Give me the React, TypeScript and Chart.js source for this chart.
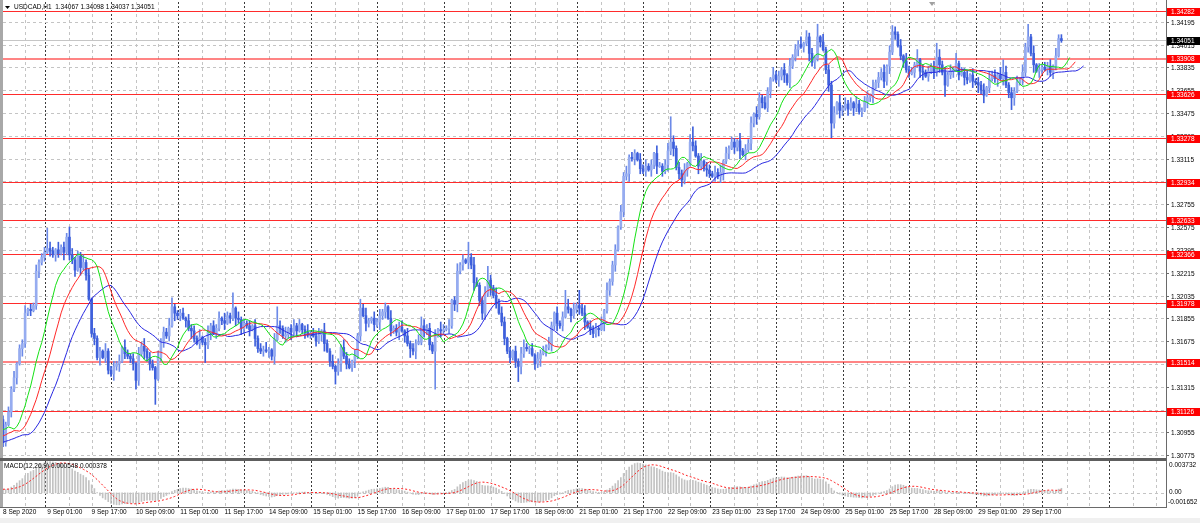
import React, { useEffect, useRef } from 'react';
import { Chart, registerables } from 'chart.js';

Chart.register(...registerables);

// ---------------- data ----------------
// hourly USDCAD closes, in pips above 1.3000 (bar 0 = 8 Sep 09:00)
const BASE_PRICE = 1.3;
const PIP = 0.0001;

const warmupClosePips = [82, 80, 84, 86, 83, 85, 88, 87, 90, 89, 92, 91, 94, 93, 96, 95, 98, 97, 100, 99, 102, 104, 103, 106];

const week1ClosePips = [
  88, 102, 112, 130, 139, 150, 162, 166, 190, 193,
  192, 196, 223, 230, 234, 238, 241, 239, 236, 240,
  237, 242, 238, 250, 236, 232, 224, 235, 226, 230,
  220, 201, 174, 170, 155, 160, 155, 160, 145, 142,
  148, 150, 152, 163, 158, 156, 154, 150, 137, 158,
  164, 160, 155, 150, 147, 138, 155, 168, 175, 172,
  180, 195, 190, 188, 190, 186, 184, 178, 176, 170,
  166, 171, 167, 165, 175, 180, 174, 178, 186, 184,
  182, 188, 186, 194, 186, 185, 178,
];

const week2ClosePips = [
  182, 180, 177, 180, 170, 162, 160, 161, 160, 161,
  156, 169, 180, 178, 172, 173, 178, 175, 180, 176,
  181, 177, 175, 173, 174, 172, 168, 173, 176, 166,
  160, 152, 148, 144, 150, 163, 156, 150, 147, 152,
  156, 172, 194, 188, 182, 184, 186, 181, 183, 188,
  191, 195, 186, 176, 178, 175, 179, 176, 172, 166,
  162, 160, 166, 167, 180, 176, 178, 165, 160, 172,
  177, 176, 177, 178, 180, 200, 197, 223, 228, 232,
  230, 234, 228, 214, 212, 200, 190, 206, 216, 210,
  204, 198, 190, 183, 170, 160, 155, 160, 152, 148,
  158, 163, 162, 162, 157, 150, 154, 158, 160, 163,
  165, 180, 190, 182, 180, 187, 195, 193, 188, 193,
];

const week3ClosePips = [
  196, 194, 190, 183, 179, 177, 174, 178, 177, 182,
  192, 208, 215, 228, 240, 258, 270, 298, 300, 313,
  312, 316, 311, 304, 302, 306, 303, 307, 316, 306,
  306, 302, 307, 318, 325, 320, 305, 300, 295, 303,
  308, 325, 322, 314, 306, 310, 304, 303, 300, 298,
  301, 298, 301, 310, 316, 320, 325, 321, 326, 318,
  315, 319, 324, 340, 347, 345, 360, 356, 352, 365,
  375, 378, 374, 377, 382, 378, 372, 385, 392, 398,
  402, 400, 403, 408, 395, 388, 391, 408, 404, 398,
  382, 370, 340, 348, 356, 350, 352, 355, 351, 356,
  352, 355, 349, 350, 357, 360, 362, 368, 372, 376,
  380, 373, 385, 396, 412, 410, 401, 393, 389, 382,
];

const week4ClosePips = [
  379, 380, 386, 390, 381, 380, 377, 381, 384, 380,
  392, 386, 380, 370, 378, 381, 383, 387, 378, 380,
  376, 374, 378, 373, 372, 370, 366, 362, 368, 375,
  378, 375, 378, 375, 380, 370, 364, 360, 365, 372,
  375, 380, 400, 408, 395, 386, 381, 382, 384, 382,
  385, 380, 385, 393, 406.7, 405.1,
];

// wick lengths in pips, one digit per bar, one string per trading day
const warmupUpWicks = '231423142314231423142314';
const warmupDownWicks = '314231423142314231423142';
const upWickPips = [
  '324251336142523',
  '425316243152436251423162', '342516324153624315243612', '234153426135243516324152',
  '324152436215342613524136', '243516325142634152436215', '352416234516243615342516',
  '425136241536423514263541', '314256324153426315243615', '243615342516234153624315',
  '352416324615243516342615', '425361524316243516425316', '342516243615342516243516',
  '253416324516243615342516', '342615243516342516243615', '243516342615243516342615',
  '24351634',
];
const downWickPips = [
  '231425163241352',
  '314253162435162413526143', '253614235142635241352416', '341526314253614235142635',
  '425163241536142536241352', '314256142536241352416325', '263514236152436125342615',
  '314256241536142536241352', '425163241536142536241352', '352614235162435124362514',
  '241536142536241352416325', '314256241536142536241352', '253614235142635241352416',
  '425163241536142536241352', '314256142536241352416325', '263514236152436125342615',
  '31425316',
];
// notable spikes: [bar index, price in pips above 1.3000]
const spikeHighPips: [number, number][] = [
  [16, 257], [24, 258], [61, 202], [83, 206], [99, 195], [129, 201], [138, 198], [151, 187],
  [168, 246], [175, 227], [203, 208], [208, 208], [241, 345], [249, 337], [294, 418], [321, 417],
  [330, 398], [337, 403], [344, 395], [361, 390], [370, 418], [382, 409.8],
];
const spikeLowPips: [number, number][] = [
  [0, 84.6], [48, 130], [55, 118], [73, 151], [120, 134], [147, 155], [156, 130], [173, 185],
  [186, 136], [192, 145.5], [213, 170.6], [245, 290], [283, 370], [299, 328.5], [310, 345],
  [340, 361], [354, 356], [364, 350.6], [378, 377], [382, 403.7],
];

const redLevels = [1.34282, 1.33908, 1.33626, 1.33278, 1.32934, 1.32633, 1.32366, 1.31978, 1.31514, 1.31126];
const thickLevels = [1.33908, 1.31514];
const bidPrice = 1.34051;
const priceTicks = [
  1.30775, 1.30955, 1.31135, 1.31315, 1.31495, 1.31675, 1.31855, 1.32035, 1.32215, 1.32395,
  1.32575, 1.32755, 1.32935, 1.33115, 1.33295, 1.33475, 1.33655, 1.33835, 1.34015, 1.34195,
];
const timeLabels = [
  '8 Sep 2020', '9 Sep 01:00', '9 Sep 17:00', '10 Sep 09:00', '11 Sep 01:00', '11 Sep 17:00',
  '14 Sep 09:00', '15 Sep 01:00', '15 Sep 17:00', '16 Sep 09:00', '17 Sep 01:00', '17 Sep 17:00',
  '18 Sep 09:00', '21 Sep 01:00', '21 Sep 17:00', '22 Sep 09:00', '23 Sep 01:00', '23 Sep 17:00',
  '24 Sep 09:00', '25 Sep 01:00', '25 Sep 17:00', '28 Sep 09:00', '29 Sep 01:00', '29 Sep 17:00',
];
const TIME_LABEL_STEP = 16;
const titleText = 'USDCAD,H1  1.34067 1.34098 1.34037 1.34051';
const macdTitle = 'MACD(12,26,9) 0.000548 0.000378';
const macdTickLabels = ['0.003732', '0.00', '-0.001652'];
const MACD_MAX = 0.003732;
const MACD_MIN = -0.001652;

// ---------------- layout ----------------
const X_MIN = 0.018;
const X_MAX = 419.75;
const P_MIN = 1.307568;
const P_MAX = 1.343555;
const FONT = '6.5px "Liberation Sans", Arial, sans-serif';
const GRID_COLOR = '#c4c4c4';
const SEP_COLOR = '#3a3a3a';
const FRAME_COLOR = '#6a6a6a';

// ---------------- derived series ----------------
const closesPips = [...warmupClosePips, ...week1ClosePips, ...week2ClosePips, ...week3ClosePips, ...week4ClosePips];
const W = warmupClosePips.length;
const upW = (warmupUpWicks + upWickPips.join('')).split('').map(Number);
const dnW = (warmupDownWicks + downWickPips.join('')).split('').map(Number);
const hiMap = new Map<number, number>(spikeHighPips);
const loMap = new Map<number, number>(spikeLowPips);

type Bar = { idx: number; o: number; h: number; l: number; c: number };
const bars: Bar[] = closesPips.map((c, i) => {
  const o = i > 0 ? closesPips[i - 1] : c;
  const idx = i - W;
  let h = Math.max(o, c) + (upW[i] ?? 0);
  let l = Math.min(o, c) - (dnW[i] ?? 0);
  if (hiMap.has(idx)) h = Math.max(hiMap.get(idx) as number, Math.max(o, c));
  if (loMap.has(idx)) l = Math.min(loMap.get(idx) as number, Math.min(o, c));
  const p = (v: number) => BASE_PRICE + v * PIP;
  return { idx, o: p(o), h: p(h), l: p(l), c: p(c) };
});

function smma(src: number[], n: number) {
  const out: number[] = [];
  let v = src[0];
  src.forEach((s, i) => {
    v = i === 0 ? s : (v * (n - 1) + s) / n;
    out.push(v);
  });
  return out;
}
function ema(src: number[], n: number) {
  const k = 2 / (n + 1);
  const out: number[] = [];
  let v = src[0];
  src.forEach((s, i) => {
    v = i === 0 ? s : v + k * (s - v);
    out.push(v);
  });
  return out;
}
const medians = bars.map((b) => (b.h + b.l) / 2);
const jaw = smma(medians, 13);
const teeth = smma(medians, 8);
const lips = smma(medians, 5);
const closes = bars.map((b) => b.c);
const e12 = ema(closes, 12);
const e26 = ema(closes, 26);
const macdMain = e12.map((v, i) => v - e26[i]);
const macdSignal = macdMain.map((_, i) => {
  const from = Math.max(0, i - 8);
  const seg = macdMain.slice(from, i + 1);
  return seg.reduce((a, b) => a + b, 0) / seg.length;
});

const visible = bars.filter((b) => b.idx >= 0);
const BULL_BODY = 'rgb(150,172,240)';
const BULL_WICK = 'rgb(108,138,232)';
const BEAR_BODY = 'rgb(62,96,220)';

// ---------------- drawing helpers ----------------
function drawVerticalGrid(chart: any, top: number, bottom: number) {
  const ctx = chart.ctx;
  const { left, right } = chart.chartArea;
  const xs = chart.scales.x;
  ctx.save();
  ctx.beginPath();
  ctx.rect(left, top, right - left, bottom - top);
  ctx.clip();
  ctx.lineWidth = 1;
  ctx.strokeStyle = GRID_COLOR;
  ctx.setLineDash([3, 3]);
  for (let idx = 8; idx <= X_MAX; idx += 8) {
    if (idx % 24 === 16) continue;
    const x = Math.round(xs.getPixelForValue(idx)) + 0.5;
    ctx.beginPath();
    ctx.moveTo(x, top);
    ctx.lineTo(x, bottom);
    ctx.stroke();
  }
  ctx.strokeStyle = SEP_COLOR;
  ctx.setLineDash([2, 2]);
  for (let idx = 15; idx <= X_MAX; idx += 24) {
    const x = Math.round(xs.getPixelForValue(idx)) + 0.5;
    ctx.beginPath();
    ctx.moveTo(x, top);
    ctx.lineTo(x, bottom);
    ctx.stroke();
  }
  ctx.restore();
}

function hLine(ctx: any, y: number, x1: number, x2: number) {
  ctx.beginPath();
  ctx.moveTo(x1, y);
  ctx.lineTo(x2, y);
  ctx.stroke();
}

function priceLabel(ctx: any, y: number, text: string, bg: string | null, fg: string) {
  const yy = Math.floor(y);
  if (bg) {
    ctx.fillStyle = bg;
    ctx.fillRect(1167, yy - 3, 33, 8);
  }
  ctx.fillStyle = fg;
  ctx.textAlign = 'left';
  ctx.textBaseline = 'middle';
  ctx.fillText(text, 1171, yy + 1);
}

const mainDecor = {
  id: 'mainDecor',
  beforeDatasetsDraw(chart: any) {
    const ctx = chart.ctx;
    const { left, right, top, bottom } = chart.chartArea;
    const ys = chart.scales.y;
    drawVerticalGrid(chart, top, bottom);
    ctx.save();
    ctx.lineWidth = 1;
    ctx.strokeStyle = GRID_COLOR;
    ctx.setLineDash([3, 3]);
    priceTicks.forEach((t) => hLine(ctx, Math.floor(ys.getPixelForValue(t)) + 0.5, left, right));
    ctx.setLineDash([]);
    ctx.strokeStyle = '#c6c6c6';
    hLine(ctx, Math.floor(ys.getPixelForValue(bidPrice)) + 0.5, left, right);
    redLevels.forEach((lv) => {
      const y = ys.getPixelForValue(lv);
      if (thickLevels.includes(lv)) {
        ctx.lineWidth = 2;
        ctx.strokeStyle = 'rgba(255,50,50,0.6)';
        hLine(ctx, Math.round(y), left, right);
      } else {
        ctx.lineWidth = 1;
        ctx.strokeStyle = '#ff2b2b';
        hLine(ctx, Math.floor(y) + 0.5, left, right);
      }
    });
    ctx.restore();
  },
  afterDraw(chart: any) {
    const ctx = chart.ctx;
    const { right, bottom } = chart.chartArea;
    const ys = chart.scales.y;
    ctx.save();
    // frame
    ctx.fillStyle = '#a8a8a8';
    ctx.fillRect(0, 0, 3, chart.height);
    ctx.fillStyle = '#5e5e5e';
    ctx.fillRect(0, bottom, right + 1, chart.height - bottom);
    ctx.strokeStyle = FRAME_COLOR;
    ctx.lineWidth = 1;
    ctx.beginPath();
    ctx.moveTo(right + 0.5, 0);
    ctx.lineTo(right + 0.5, chart.height);
    ctx.stroke();
    // price ticks
    ctx.font = FONT;
    priceTicks.forEach((t) => {
      const y = ys.getPixelForValue(t);
      ctx.beginPath();
      ctx.moveTo(right, Math.floor(y) + 0.5);
      ctx.lineTo(right + 3, Math.floor(y) + 0.5);
      ctx.stroke();
      priceLabel(ctx, y, t.toFixed(5), null, '#000');
    });
    redLevels.forEach((lv) => priceLabel(ctx, ys.getPixelForValue(lv), lv.toFixed(5), '#ff0000', '#ffffff'));
    priceLabel(ctx, ys.getPixelForValue(bidPrice), bidPrice.toFixed(5), '#000000', '#ffffff');
    // title
    ctx.fillStyle = '#000';
    ctx.beginPath();
    ctx.moveTo(5, 6);
    ctx.lineTo(10, 6);
    ctx.lineTo(7.5, 9);
    ctx.closePath();
    ctx.fill();
    ctx.textAlign = 'left';
    ctx.textBaseline = 'middle';
    ctx.fillText(titleText, 14, 7.5);
    // chart shift marker
    ctx.fillStyle = '#a0a0a0';
    ctx.beginPath();
    ctx.moveTo(929, 2);
    ctx.lineTo(935, 2);
    ctx.lineTo(932, 6);
    ctx.closePath();
    ctx.fill();
    ctx.restore();
  },
};

const macdDecor = {
  id: 'macdDecor',
  beforeDatasetsDraw(chart: any) {
    const ctx = chart.ctx;
    const { left, right, top, bottom } = chart.chartArea;
    drawVerticalGrid(chart, top, bottom);
    ctx.save();
    ctx.lineWidth = 1;
    ctx.strokeStyle = GRID_COLOR;
    ctx.setLineDash([3, 3]);
    hLine(ctx, Math.round(chart.scales.y.getPixelForValue(0)) + 0.5, left, right);
    ctx.restore();
  },
  afterDraw(chart: any) {
    const ctx = chart.ctx;
    const { right, top, bottom } = chart.chartArea;
    const xs = chart.scales.x;
    const ys = chart.scales.y;
    ctx.save();
    ctx.fillStyle = '#a8a8a8';
    ctx.fillRect(0, 0, 3, bottom);
    ctx.strokeStyle = FRAME_COLOR;
    ctx.lineWidth = 1;
    ctx.beginPath();
    ctx.moveTo(right + 0.5, 0);
    ctx.lineTo(right + 0.5, bottom + 1);
    ctx.moveTo(0, bottom + 0.5);
    ctx.lineTo(right + 1, bottom + 0.5);
    ctx.stroke();
    ctx.font = FONT;
    ctx.fillStyle = '#000';
    ctx.textAlign = 'left';
    ctx.textBaseline = 'middle';
    ctx.fillText(macdTitle, 4, top + 5);
    ctx.fillText(macdTickLabels[0], 1169, top + 4.5);
    ctx.fillText(macdTickLabels[1], 1169, Math.round(ys.getPixelForValue(0)) - 0.5);
    ctx.fillText(macdTickLabels[2], 1168, bottom - 5);
    timeLabels.forEach((lab, k) => {
      const x = Math.max(3, xs.getPixelForValue(k * TIME_LABEL_STEP));
      ctx.fillText(lab, x, bottom + 5.5);
    });
    ctx.restore();
  },
};

const baseOptions = (padding: any, yMin: number, yMax: number) => ({
  responsive: false,
  animation: false as const,
  devicePixelRatio: 1,
  events: [] as any[],
  layout: { padding },
  plugins: { legend: { display: false }, tooltip: { enabled: false }, title: { display: false } },
  scales: {
    x: { type: 'linear' as const, display: false, min: X_MIN, max: X_MAX, offset: false, bounds: 'data' as const },
    y: { type: 'linear' as const, display: false, min: yMin, max: yMax, beginAtZero: false, bounds: 'data' as const },
  },
});

const lineDs = (data: any[], color: string, order: number, extra: any = {}) => ({
  type: 'line' as const,
  data,
  borderColor: color,
  borderWidth: 1,
  pointRadius: 0,
  tension: 0,
  fill: false,
  clip: 0,
  order,
  ...extra,
});

function mainConfig(): any {
  const shifted = (vals: number[], shift: number) =>
    bars.map((b, i) => ({ x: b.idx + shift, y: vals[i] })).filter((p) => p.x >= -2);
  return {
    type: 'bar',
    data: {
      datasets: [
        lineDs(shifted(lips, 3), 'rgb(20,225,20)', 0),
        lineDs(shifted(teeth, 5), 'rgb(255,40,40)', 1),
        lineDs(shifted(jaw, 8), 'rgb(40,40,225)', 2),
        {
          type: 'bar',
          data: visible.map((b) => {
            const lo = Math.min(b.o, b.c);
            const hi = Math.max(b.o, b.c);
            return { x: b.idx, y: hi - lo < 0.00001 ? [lo - 0.00004, hi + 0.00004] : [lo, hi] };
          }),
          backgroundColor: visible.map((b) => (b.c >= b.o ? BULL_BODY : BEAR_BODY)),
          barThickness: 2,
          grouped: false,
          clip: 0,
          order: 3,
        },
        {
          type: 'bar',
          data: visible.map((b) => ({ x: b.idx, y: [b.l, b.h] })),
          backgroundColor: visible.map((b) => (b.c >= b.o ? BULL_WICK : BEAR_BODY)),
          barThickness: 1,
          grouped: false,
          clip: 0,
          order: 4,
        },
      ],
    },
    options: baseOptions({ left: 3, right: 34, top: 2, bottom: 3 }, P_MIN, P_MAX),
    plugins: [mainDecor],
  };
}

function macdConfig(): any {
  const pts = bars.map((b, i) => ({ idx: b.idx, m: macdMain[i], s: macdSignal[i] })).filter((p) => p.idx >= -1);
  return {
    type: 'bar',
    data: {
      datasets: [
        lineDs(pts.map((p) => ({ x: p.idx, y: p.s })), 'rgb(255,30,30)', 0, { borderDash: [2, 2] }),
        {
          type: 'bar',
          data: pts.map((p) => ({ x: p.idx, y: p.m })),
          backgroundColor: '#c2c2c2',
          barThickness: 1,
          grouped: false,
          clip: 0,
          order: 1,
        },
      ],
    },
    options: baseOptions({ left: 3, right: 34, top: 0, bottom: 11 }, MACD_MIN, MACD_MAX),
    plugins: [macdDecor],
  };
}

export default function App() {
  const mainRef = useRef<HTMLCanvasElement>(null);
  const macdRef = useRef<HTMLCanvasElement>(null);
  useEffect(() => {
    const c1 = new Chart(mainRef.current as HTMLCanvasElement, mainConfig());
    const c2 = new Chart(macdRef.current as HTMLCanvasElement, macdConfig());
    return () => {
      c1.destroy();
      c2.destroy();
    };
  }, []);
  return (
    <div style={{ position: 'fixed', left: 0, top: 0, width: 1200, height: 523, background: '#ffffff', overflow: 'hidden' }}>
      <canvas ref={mainRef} width={1200} height={461} style={{ position: 'absolute', left: 0, top: 0, width: 1200, height: 461 }} />
      <canvas ref={macdRef} width={1200} height={57} style={{ position: 'absolute', left: 0, top: 461, width: 1200, height: 57 }} />
      <div style={{ position: 'absolute', left: 0, top: 518, width: 1200, height: 5, background: '#f0f0f0' }} />
    </div>
  );
}
